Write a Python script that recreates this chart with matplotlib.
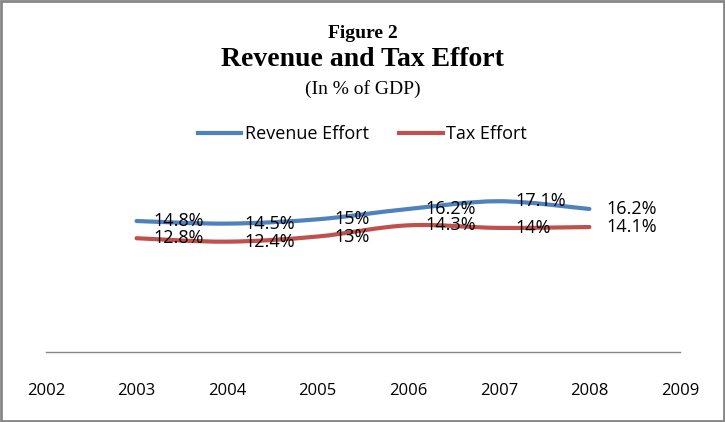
import matplotlib
matplotlib.use("Agg")
import matplotlib.pyplot as plt
from matplotlib.path import Path
from matplotlib.patches import PathPatch, Rectangle

years = [2003, 2004, 2005, 2006, 2007, 2008]
revenue = [14.8, 14.5, 15, 16.2, 17.1, 16.2]
tax = [12.8, 12.4, 13, 14.3, 14, 14.1]
rev_labels = ["14.8%", "14.5%", "15%", "16.2%", "17.1%", "16.2%"]
tax_labels = ["12.8%", "12.4%", "13%", "14.3%", "14%", "14.1%"]
xticks = [2002, 2003, 2004, 2005, 2006, 2007, 2008, 2009]

blue = "#4F81BD"
red = "#C0504D"
sans = ["Open Sans", "DejaVu Sans"]
serif = ["Liberation Serif", "DejaVu Serif"]


def smooth_path(xs, ys):
    # excel-like smoothed line: catmull-rom turned into bezier segments
    pts = list(zip(xs, ys))
    verts = [pts[0]]
    codes = [Path.MOVETO]
    n = len(pts)
    for i in range(n - 1):
        p0 = pts[i - 1] if i > 0 else pts[i]
        p1 = pts[i]
        p2 = pts[i + 1]
        p3 = pts[i + 2] if i + 2 < n else pts[i + 1]
        c1 = (p1[0] + (p2[0] - p0[0]) / 6, p1[1] + (p2[1] - p0[1]) / 6)
        c2 = (p2[0] - (p3[0] - p1[0]) / 6, p2[1] - (p3[1] - p1[1]) / 6)
        verts += [c1, c2, p2]
        codes += [Path.CURVE4] * 3
    return Path(verts, codes)


fig = plt.figure(figsize=(7.25, 4.22), dpi=100)
ax = fig.add_axes([0.0634, 0.1659, 0.8745, 0.4265])

for ys, col, lab in [(revenue, blue, "Revenue Effort"), (tax, red, "Tax Effort")]:
    ax.add_patch(PathPatch(smooth_path(years, ys), fill=False, edgecolor=col,
                           linewidth=3, capstyle="round"))
    ax.plot([], [], color=col, linewidth=3, label=lab)

for x, y, t in zip(years, revenue, rev_labels):
    ax.annotate(t, (x, y), xytext=(17, 0), textcoords="offset pixels",
                ha="left", va="center", fontsize=13, family=sans)
for x, y, t in zip(years, tax, tax_labels):
    ax.annotate(t, (x, y), xytext=(17, 0), textcoords="offset pixels",
                ha="left", va="center", fontsize=13, family=sans)

ax.set_xlim(2002, 2009)
ax.set_ylim(-0.43, 20.5)
ax.set_xticks(xticks)
ax.set_xticklabels([str(v) for v in xticks], family=sans, fontsize=12)
ax.tick_params(axis="x", length=0, pad=22)
ax.set_yticks([])
for s in ["top", "left", "right"]:
    ax.spines[s].set_visible(False)
ax.spines["bottom"].set_color("#868686")
ax.spines["bottom"].set_linewidth(1)

fig.text(0.5, 1 - 33 / 422, "Figure 2", ha="center", va="center",
         family=serif, fontweight="bold", fontsize=14)
fig.text(0.5, 1 - 60 / 422, "Revenue and Tax Effort", ha="center", va="center",
         family=serif, fontweight="bold", fontsize=20)
fig.text(0.5, 1 - 89 / 422, "(In % of GDP)", ha="center", va="center",
         family=serif, fontsize=14)

fig.legend(loc="center", bbox_to_anchor=(0.5, 1 - 134 / 422), ncol=2,
           frameon=False, prop={"family": sans, "size": 13},
           handlelength=2.4, handletextpad=0.2, columnspacing=1.7)

fig.add_artist(Rectangle((0.002, 0.003), 0.996, 0.994, transform=fig.transFigure,
                         fill=False, edgecolor="#868686", linewidth=2))

fig.savefig("out.png", dpi=100)
